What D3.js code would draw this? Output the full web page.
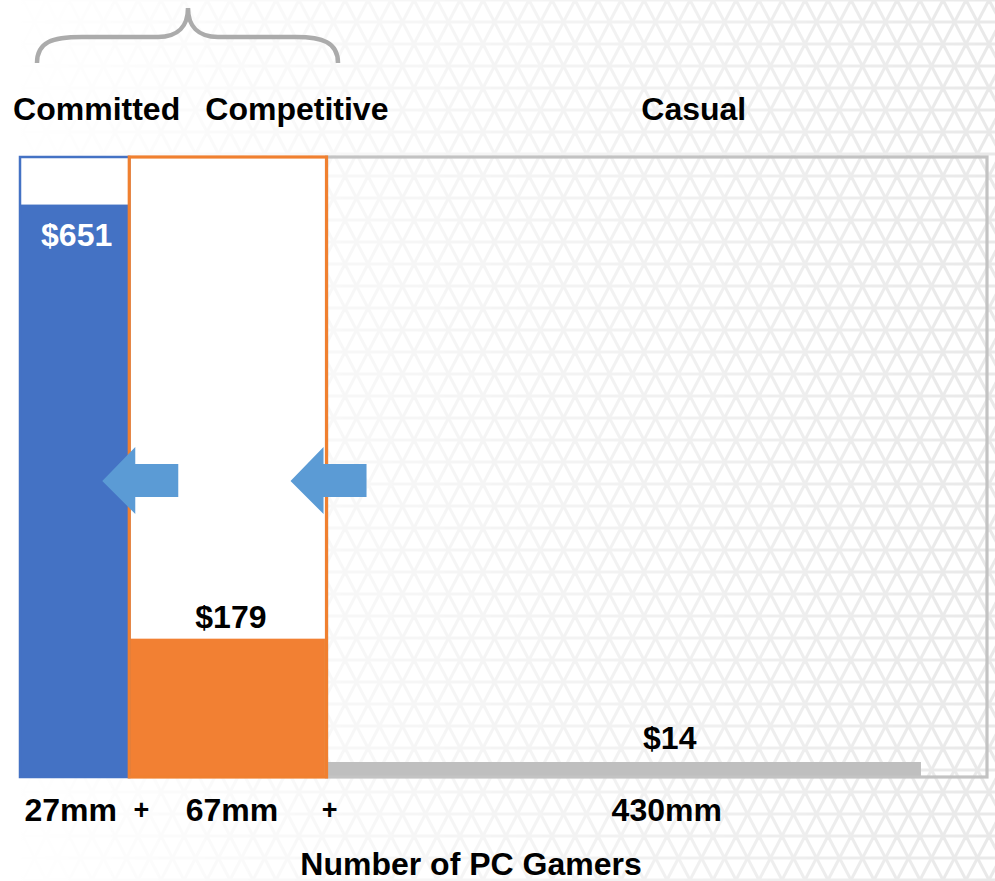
<!DOCTYPE html>
<meta charset="utf-8">
<style>
 body { margin: 0; background: #fff; }
 text { font-family: "Liberation Sans", Arial, sans-serif; font-weight: bold; }
</style>
<script src="https://d3js.org/d3.v7.min.js"></script>
<body>
<script>
// segment data
var segments = ["Committed", "Competitive", "Casual"];
var spend = [651, 179, 14];
var gamers = [27, 67, 430];
var spendLabels = ["$651", "$179", "$14"];
var gamerLabels = ["27mm", "67mm", "430mm"];
var axisTitle = "Number of PC Gamers";

var width = 995, height = 881;
var colors = ["#4472c4", "#f28033", "#bfbfbf"];
var outline = ["#4472c4", "#f08030", "#c3c3c3"];

var svg = d3.select("body").append("svg")
 .attr("width", width)
 .attr("height", height);

var defs = svg.append("defs");

// faint triangle lattice in the background
var tw = 23, th = 22;
var pat = defs.append("pattern")
 .attr("id", "tri")
 .attr("patternUnits", "userSpaceOnUse")
 .attr("width", tw).attr("height", th * 2);
pat.append("rect").attr("width", tw).attr("height", th * 2).attr("fill", "#fff");
var lines = [
 [0, 0, tw, 0], [0, th, tw, th], [0, 2 * th, tw, 2 * th],
 [0, 0, tw, 2 * th], [-tw, 0, 0, 2 * th], [tw, 0, 2 * tw, 2 * th],
 [tw, 0, 0, 2 * th], [0, 0, -tw, 2 * th], [2 * tw, 0, tw, 2 * th]
];
pat.selectAll("line").data(lines).enter().append("line")
 .attr("x1", function(d) { return d[0]; })
 .attr("y1", function(d) { return d[1]; })
 .attr("x2", function(d) { return d[2]; })
 .attr("y2", function(d) { return d[3]; })
 .attr("stroke", "#e9e9e9")
 .attr("stroke-width", 3);

var grad = defs.append("linearGradient").attr("id", "fade")
 .attr("x1", 0).attr("x2", 1).attr("y1", 0).attr("y2", 0);
grad.append("stop").attr("offset", "0").attr("stop-color", "#fff").attr("stop-opacity", 0);
grad.append("stop").attr("offset", "0.3").attr("stop-color", "#fff").attr("stop-opacity", 0.3);
grad.append("stop").attr("offset", "0.65").attr("stop-color", "#fff").attr("stop-opacity", 0.62);
grad.append("stop").attr("offset", "1").attr("stop-color", "#fff").attr("stop-opacity", 1);
defs.append("mask").attr("id", "fadeMask")
 .append("rect").attr("width", width).attr("height", height).attr("fill", "url(#fade)");

svg.append("rect").attr("width", width).attr("height", height).attr("fill", "#fff");
svg.append("rect").attr("width", width).attr("height", height)
 .attr("fill", "url(#tri)")
 .attr("mask", "url(#fadeMask)");

// scales: widths follow a damped (power) scale of gamer counts,
// heights a slightly steepened power scale of spend
var pw = d3.scalePow().exponent(0.65).domain([0, 1]).range([0, 1]);
var edges = [0];
gamers.forEach(function(g) { edges.push(edges[edges.length - 1] + pw(g)); });
var x = d3.scaleLinear().domain([0, edges[edges.length - 1]]).range([20, 987]);

var yTop = 157, yBase = 777;
var y = d3.scalePow().exponent(1.1).domain([0, 700]).range([yBase, yTop]);
var minBar = 15; // keep tiny bars visible

var data = segments.map(function(s, i) {
 var h = Math.max(yBase - y(spend[i]), minBar);
 return { name: s, spend: spend[i], x0: x(edges[i]), x1: x(edges[i + 1]), h: h, i: i };
});

// casual bar only spans part of its box
var barFrac = [1, 1, 0.9];

// box backgrounds
svg.selectAll("rect.bg").data(data.slice(0, 2)).enter().append("rect")
 .attr("class", "bg")
 .attr("x", function(d) { return d.x0; })
 .attr("y", yTop)
 .attr("width", function(d) { return d.x1 - d.x0; })
 .attr("height", yBase - yTop)
 .attr("fill", "#fff")
 .attr("fill-opacity", 0.92);

// bars
svg.selectAll("rect.bar").data(data).enter().append("rect")
 .attr("class", "bar")
 .attr("x", function(d) { return d.x0; })
 .attr("y", function(d) { return yBase - d.h; })
 .attr("width", function(d) { return (d.x1 - d.x0) * barFrac[d.i]; })
 .attr("height", function(d) { return d.h; })
 .attr("fill", function(d) { return colors[d.i]; });

// outlines: casual first, competitive last so it sits on the shared edge
[2, 0, 1].forEach(function(i) {
 var d = data[i];
 svg.append("rect")
  .attr("x", d.x0).attr("y", yTop)
  .attr("width", d.x1 - d.x0).attr("height", yBase - yTop)
  .attr("fill", "none")
  .attr("stroke", outline[i])
  .attr("stroke-width", i == 0 ? 2.5 : 3.2);
});

// arrows pointing left at the segment boundaries
var arrowY = 481;
var arrowTip = [-27, -36];
[0, 1].forEach(function(i) {
 var e = data[i].x1, t = e + arrowTip[i];
 var pts = [[t, arrowY], [t + 33, arrowY - 34], [t + 33, arrowY - 17], [t + 76, arrowY - 17],
  [t + 76, arrowY + 16], [t + 33, arrowY + 16], [t + 33, arrowY + 33]];
 svg.append("polygon")
  .attr("points", pts.map(function(p) { return p.join(","); }).join(" "))
  .attr("fill", "#5b9bd5");
});

// brace over the first two segments
var bx0 = 37, bx1 = 338, bm = 188;
svg.append("path")
 .attr("d", "M" + bx0 + ",63 C" + bx0 + ",42 52,37 82,37 L158,37 C178,37 " + bm + ",26 " + bm + ",8 " +
  "C" + bm + ",26 198,37 218,37 L296,37 C322,37 " + bx1 + ",42 " + bx1 + ",63")
 .attr("fill", "none")
 .attr("stroke", "#ababab")
 .attr("stroke-width", 4.5);

var fs = 32;
// segment headers
var headerOff = [22, 69, 37];
svg.selectAll("text.head").data(data).enter().append("text")
 .attr("class", "head")
 .attr("x", function(d) { return (d.x0 + d.x1) / 2 + headerOff[d.i]; })
 .attr("y", 120)
 .attr("text-anchor", "middle")
 .attr("font-size", fs)
 .text(function(d) { return d.name; });

// spend labels
svg.append("text").attr("x", (data[0].x0 + data[0].x1) / 2 + 2).attr("y", yBase - data[0].h + 41)
 .attr("text-anchor", "middle").attr("font-size", fs).attr("fill", "#fff").text(spendLabels[0]);
svg.append("text").attr("x", (data[1].x0 + data[1].x1) / 2 + 3).attr("y", yBase - data[1].h - 11)
 .attr("text-anchor", "middle").attr("font-size", fs).attr("fill", "#000").text(spendLabels[1]);
svg.append("text").attr("x", (data[2].x0 + data[2].x1) / 2 + 13).attr("y", yBase - data[2].h - 13)
 .attr("text-anchor", "middle").attr("font-size", fs).attr("fill", "#000").text(spendLabels[2]);

// gamer counts under the boxes
var countOff = [-4, 4, 10];
svg.selectAll("text.count").data(data).enter().append("text")
 .attr("class", "count")
 .attr("x", function(d) { return (d.x0 + d.x1) / 2 + countOff[d.i]; })
 .attr("y", 821)
 .attr("text-anchor", "middle")
 .attr("font-size", fs)
 .text(function(d) { return gamerLabels[d.i]; });

var plusOff = [12, 3];
[0, 1].forEach(function(i) {
 svg.append("text")
  .attr("x", data[i].x1 + plusOff[i]).attr("y", 819)
  .attr("text-anchor", "middle").attr("font-size", 27).text("+");
});

svg.append("text")
 .attr("x", 471).attr("y", 875)
 .attr("text-anchor", "middle")
 .attr("font-size", fs)
 .text(axisTitle);
</script>
</body>
